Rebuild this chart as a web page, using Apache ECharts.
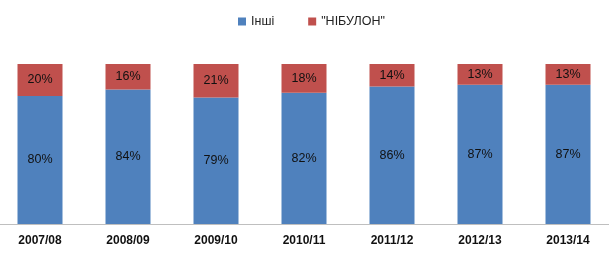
<!DOCTYPE html>
<html>
<head>
<meta charset="utf-8">
<script src="https://cdn.jsdelivr.net/npm/echarts@6/dist/echarts.min.js"></script>
<style>html,body{margin:0;padding:0;background:#fff;overflow:hidden;width:609px;height:253px;position:relative}#c{position:absolute;left:-4px;top:0;width:616px;height:253px}</style>
</head>
<body>
<div id="c"></div>
<script>
var categories = ['2007/08','2008/09','2009/10','2010/11','2011/12','2012/13','2013/14'];
var others = [80, 84, 79, 82, 86, 87, 87];
var nibulon = [20, 16, 21, 18, 14, 13, 13];
var seriesNames = ['Інші', '"НІБУЛОН"'];

var chart = echarts.init(document.getElementById('c'), null, {renderer:'canvas'});
var font = 'Liberation Sans, Arial, sans-serif';
chart.setOption({
  animation: false,
  legend: {
    top: 10, left: 237, itemWidth: 8, itemHeight: 8, itemGap: 34, icon: 'rect',
    textStyle: {fontFamily: font, fontSize: 12.5, color: '#222'},
    data: seriesNames
  },
  grid: {left: 0, right: 0, top: 64, bottom: 29, containLabel: false},
  xAxis: {
    type: 'category', data: categories,
    axisLine: {lineStyle: {color: '#bfbfbf', width: 1}},
    axisTick: {show: false},
    axisLabel: {fontFamily: font, fontSize: 12, fontWeight: 'bold', color: '#111', margin: 11}
  },
  yAxis: {type: 'value', min: 0, max: 100, show: false, splitLine: {show: false}},
  series: [
    {name: seriesNames[0], type: 'bar', stack: 's', data: others, barWidth: 45,
     itemStyle: {color: '#4F81BD'},
     label: {show: true, position: 'inside', formatter: '{c}%', fontFamily: font, fontSize: 12.5, color: '#111'}},
    {name: seriesNames[1], type: 'bar', stack: 's', data: nibulon, barWidth: 45,
     itemStyle: {color: '#C0504D'},
     label: {show: true, position: 'inside', formatter: '{c}%', fontFamily: font, fontSize: 12.5, color: '#111'}}
  ]
});
</script>
</body>
</html>
